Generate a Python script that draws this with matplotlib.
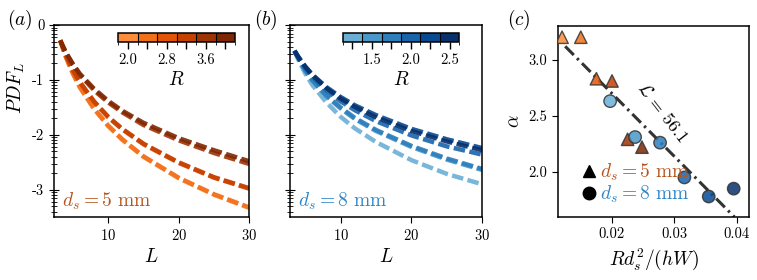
import numpy as np
import matplotlib
matplotlib.use('Agg')
import matplotlib.pyplot as plt
from matplotlib.colors import ListedColormap, BoundaryNorm
from matplotlib.cm import ScalarMappable
from matplotlib.lines import Line2D
from matplotlib.ticker import FuncFormatter, LogLocator

plt.rcParams['font.family'] = 'serif'
plt.rcParams['font.serif'] = ['cmr10', 'DejaVu Serif']
plt.rcParams['mathtext.fontset'] = 'cm'
plt.rcParams['axes.formatter.use_mathtext'] = True
plt.rcParams['axes.unicode_minus'] = False

# panel (a): d_s = 5 mm, log10 PDF
L_a = [3.2, 4, 5, 6, 8, 10, 12, 15, 20, 25, 30]
R_a = [2.0, 2.4, 2.8, 3.2, 3.6, 4.0]
logpdf_a = [
    [-0.28, -0.58, -0.89, -1.14, -1.53, -1.84, -2.09, -2.40, -2.79, -3.09, -3.33],
    [-0.28, -0.58, -0.88, -1.13, -1.52, -1.83, -2.08, -2.39, -2.78, -3.08, -3.32],
    [-0.28, -0.55, -0.83, -1.05, -1.40, -1.68, -1.90, -2.17, -2.51, -2.78, -2.98],
    [-0.28, -0.55, -0.82, -1.04, -1.39, -1.67, -1.89, -2.16, -2.50, -2.77, -2.97],
    [-0.28, -0.50, -0.72, -0.91, -1.19, -1.41, -1.59, -1.82, -2.10, -2.33, -2.53],
    [-0.28, -0.50, -0.71, -0.89, -1.16, -1.38, -1.56, -1.78, -2.06, -2.28, -2.48],
]

# panel (b): d_s = 8 mm
L_b = [3.5, 4, 5, 6, 8, 10, 12, 15, 20, 25, 30]
R_b = [1.25, 1.5, 1.75, 2.0, 2.25, 2.5]
logpdf_b = [
    [-0.47, -0.62, -0.88, -1.09, -1.41, -1.67, -1.88, -2.13, -2.46, -2.71, -2.90],
    [-0.47, -0.60, -0.83, -1.01, -1.30, -1.52, -1.71, -1.93, -2.22, -2.45, -2.64],
    [-0.47, -0.60, -0.82, -1.00, -1.28, -1.50, -1.69, -1.91, -2.20, -2.43, -2.62],
    [-0.47, -0.58, -0.78, -0.94, -1.19, -1.39, -1.55, -1.75, -2.01, -2.21, -2.36],
    [-0.47, -0.57, -0.75, -0.90, -1.13, -1.31, -1.46, -1.64, -1.89, -2.08, -2.24],
    [-0.47, -0.58, -0.76, -0.91, -1.15, -1.34, -1.49, -1.68, -1.93, -2.12, -2.28],
]

# panel (c): exponent alpha against R d_s^2/(hW)
x_5mm = [0.0120, 0.0150, 0.0175, 0.0200, 0.0225, 0.0248]
alpha_5mm = [3.20, 3.20, 2.83, 2.81, 2.29, 2.22]
x_8mm = [0.0197, 0.0237, 0.0277, 0.0316, 0.0355, 0.0395]
alpha_8mm = [2.63, 2.31, 2.26, 1.95, 1.78, 1.85]
fit_slope = -56.1
fit_intercept = 3.82
fit_x = [0.0125, 0.0396]

cols_a = plt.cm.Oranges(np.linspace(0.5, 1.0, 6))
cols_b = plt.cm.Blues(np.linspace(0.5, 1.0, 6))
brown = '#b5561f'
blue = '#2e86c8'

W, H = 757, 280
fig = plt.figure(figsize=(W / 100, H / 100), dpi=100)


def box(x0, y0, x1, y1):
    return [x0 / W, 1 - y1 / H, (x1 - x0) / W, (y1 - y0) / H]


ax_a = fig.add_axes(box(54, 25, 249.3, 217.3))
ax_b = fig.add_axes(box(290, 25, 482.3, 217.3))
ax_c = fig.add_axes(box(557.7, 26, 749.3, 216.7))

exp_fmt = FuncFormatter(lambda v, p: '%d' % round(np.log10(v)))

for ax, L, curves, cols, xl in [(ax_a, L_a, logpdf_a, cols_a, 2.32),
                                 (ax_b, L_b, logpdf_b, cols_b, 2.86)]:
    for y, c in zip(curves, cols):
        ax.plot(L, 10.0 ** np.array(y), color=c, lw=3.2, alpha=0.9,
                dashes=(2.6, 1.0), solid_capstyle='butt')
    ax.set_yscale('log')
    ax.set_ylim(10 ** -3.5, 1)
    ax.set_xlim(xl, 30)
    ax.set_xticks([10, 20, 30])
    ax.set_xlabel('$L$', fontsize=14)
    ax.yaxis.set_major_locator(LogLocator(base=10))
    ax.yaxis.set_major_formatter(exp_fmt)
    ax.tick_params(axis='x', labelsize=10.5, direction='out', length=4)
    ax.tick_params(axis='y', which='major', direction='inout', length=7, labelsize=10.5)
    ax.tick_params(axis='y', which='minor', direction='inout', length=4)
    for s in ax.spines.values():
        s.set_linewidth(1.1)

ax_b.yaxis.set_major_formatter(FuncFormatter(lambda v, p: ''))
ax_a.set_ylabel('$PDF_L$', fontsize=14)
ax_a.yaxis.set_label_coords(-0.14, 0.67)
ax_a.text(0.04, 0.025, r'$d_s = 5\ \mathrm{mm}$', transform=ax_a.transAxes,
          color=brown, fontsize=14, ha='left', va='bottom')
ax_b.text(0.04, 0.025, r'$d_s = 8\ \mathrm{mm}$', transform=ax_b.transAxes,
          color=blue, fontsize=14, ha='left', va='bottom')

# discrete colorbars
for cb_box, R, cols, labels in [
        (box(118.3, 33.3, 235, 41.7), R_a, cols_a, ['2.0', '', '2.8', '', '3.6', '']),
        (box(342.7, 33.3, 459.3, 41.7), R_b, cols_b, ['', '1.5', '', '2.0', '', '2.5'])]:
    cax = fig.add_axes(cb_box)
    step = R[1] - R[0]
    bounds = [r - step / 2 for r in R] + [R[-1] + step / 2]
    sm = ScalarMappable(norm=BoundaryNorm(bounds, 6), cmap=ListedColormap(cols))
    cb = fig.colorbar(sm, cax=cax, orientation='horizontal', drawedges=True)
    cb.set_ticks(R)
    cb.set_ticklabels(labels)
    cb.outline.set_linewidth(1.1)
    cb.dividers.set_linewidth(0.8)
    cax.tick_params(labelsize=10.5, length=5, width=1, pad=3)
    cb.set_label('$R$', fontsize=14, labelpad=3)

# panel (c)
fx = np.array(fit_x)
ax_c.plot(fx, fit_intercept + fit_slope * fx, color='#333333', lw=2.2,
          dashes=(4, 1.5, 0.8, 1.5), zorder=1)
ax_c.scatter(x_5mm, alpha_5mm, marker='^', s=80, c=cols_a, edgecolors='#333333',
             linewidths=1, alpha=0.85, zorder=3)
ax_c.scatter(x_8mm, alpha_8mm, marker='o', s=80, c=cols_b, edgecolors='#333333',
             linewidths=1, alpha=0.85, zorder=3)
ax_c.text(0.0281, 2.53, r'$\mathcal{L}\,=\,56.1$', rotation=-52, fontsize=13,
          ha='center', va='center')
ax_c.set_xlim(0.0113, 0.042)
ax_c.set_ylim(1.6, 3.3)
ax_c.set_xticks([0.02, 0.03, 0.04])
ax_c.set_xticklabels(['0.02', '0.03', '0.04'])
ax_c.set_yticks([2.0, 2.5, 3.0])
ax_c.set_yticklabels(['2.0', '2.5', '3.0'])
ax_c.tick_params(labelsize=10.5, direction='out', length=4)
ax_c.set_xlabel('$Rd_s^2/(hW)$', fontsize=14)
ax_c.set_ylabel(r'$\alpha$', fontsize=14)
for s in ax_c.spines.values():
    s.set_linewidth(1.1)
handles = [Line2D([], [], marker='^', color='k', ls='none', markersize=9),
           Line2D([], [], marker='o', color='k', ls='none', markersize=9)]
ax_c.legend(handles, [r'$d_s = 5\ \mathrm{mm}$', r'$d_s = 8\ \mathrm{mm}$'],
            loc='lower left', bbox_to_anchor=(0.06, 0.0), frameon=False,
            fontsize=14, handlelength=0.8, handletextpad=0.2, labelspacing=0.05,
            labelcolor=[brown, blue], borderaxespad=0.2)

fig.text(7 / W, 1 - 8 / H, '$(a)$', fontsize=14, va='top', ha='left')
fig.text(254 / W, 1 - 8 / H, '$(b)$', fontsize=14, va='top', ha='left')
fig.text(507 / W, 1 - 8 / H, '$(c)$', fontsize=14, va='top', ha='left')

fig.savefig('out.png', dpi=100)
